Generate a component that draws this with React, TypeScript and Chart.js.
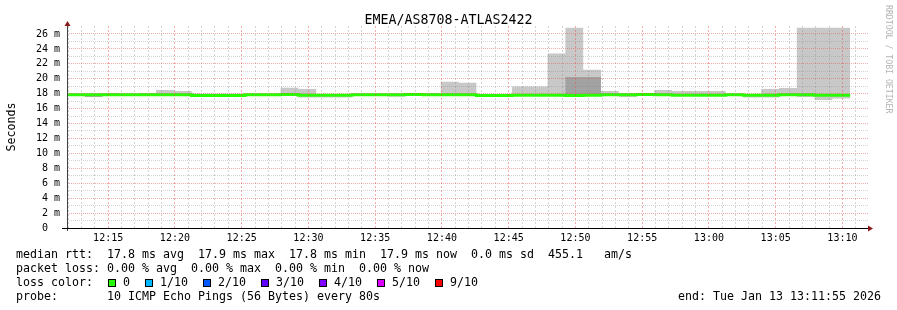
import React, { useEffect, useRef } from "react";
import { Chart, registerables } from "chart.js";

Chart.register(...registerables);

const MONO = '"DejaVu Sans Mono", monospace';

const TITLE = "EMEA/AS8708-ATLAS2422";
const Y_LABEL = "Seconds";
const WATERMARK = "RRDTOOL / TOBI OETIKER";

// time axis in minutes after 12:00
const START_MIN = 11 + 55 / 60; // 12:11:55
const END_MIN = START_MIN + 60; // 13:11:55
const STEP_MIN = 80 / 60; // 80 s step

const timeLabels = ["12:15", "12:20", "12:25", "12:30", "12:35", "12:40", "12:45", "12:50", "12:55", "13:00", "13:05", "13:10"];
const yTickLabels = ["0  ", "2 m", "4 m", "6 m", "8 m", "10 m", "12 m", "14 m", "16 m", "18 m", "20 m", "22 m", "24 m", "26 m"];

// median RTT per 80 s step (ms)
const medianMs = [
  17.85, 17.85, 17.85, 17.85, 17.85, 17.85, 17.85, 17.75, 17.75, 17.75,
  17.85, 17.85, 17.9, 17.8, 17.8, 17.8, 17.85, 17.85, 17.85, 17.9,
  17.85, 17.85, 17.85, 17.75, 17.75, 17.8, 17.8, 17.8, 17.75, 17.8,
  17.85, 17.85, 17.9, 17.85, 17.8, 17.8, 17.8, 17.85, 17.8, 17.8,
  17.85, 17.85, 17.8, 17.8,
];
// highest ping per step (ms)
const maxMs = [
  17.95, 17.95, 18.1, 17.95, 18.1, 18.5, 18.36, 18.02, 18.02, 18.02,
  17.95, 17.95, 18.8, 18.63, 17.95, 17.95, 17.95, 17.95, 17.95, 18.1,
  18.05, 19.6, 19.45, 17.9, 17.9, 18.95, 18.95, 23.4, 26.85, 21.2,
  18.36, 18.05, 18.0, 18.5, 18.36, 18.36, 18.36, 17.95, 17.95, 18.63,
  18.77, 26.85, 26.85, 26.85,
];
// lowest ping per step (ms)
const minMs = [
  17.75, 17.6, 17.75, 17.75, 17.75, 17.75, 17.75, 17.65, 17.65, 17.65,
  17.75, 17.75, 17.8, 17.5, 17.5, 17.5, 17.75, 17.75, 17.65, 17.75,
  17.75, 17.75, 17.7, 17.65, 17.65, 17.7, 17.7, 17.7, 17.65, 17.7,
  17.75, 17.55, 17.8, 17.75, 17.7, 17.7, 17.7, 17.75, 17.5, 17.5,
  17.75, 17.55, 17.15, 17.35,
];
// inner (darker) smoke band
const innerHiMs = [
  17.9, 17.9, 17.9, 17.9, 17.9, 17.9, 17.9, 17.8, 17.8, 17.8,
  17.9, 17.9, 17.95, 17.85, 17.85, 17.85, 17.9, 17.9, 17.9, 17.95,
  17.9, 17.9, 17.9, 17.8, 17.8, 17.85, 17.85, 17.85, 20.25, 20.25,
  17.9, 17.9, 17.95, 17.9, 17.85, 17.85, 17.85, 17.9, 17.85, 17.85,
  17.9, 17.9, 17.85, 17.85,
];
const innerLoMs = [
  17.8, 17.6, 17.8, 17.8, 17.8, 17.8, 17.8, 17.7, 17.7, 17.7,
  17.8, 17.8, 17.85, 17.75, 17.75, 17.75, 17.8, 17.8, 17.65, 17.85,
  17.8, 17.8, 17.8, 17.7, 17.7, 17.75, 17.75, 17.75, 17.7, 17.7,
  17.8, 17.8, 17.85, 17.8, 17.75, 17.75, 17.75, 17.8, 17.75, 17.75,
  17.8, 17.8, 17.75, 17.75,
];

const rttLine = "median rtt:  17.8 ms avg  17.9 ms max  17.8 ms min  17.9 ms now  0.0 ms sd  455.1   am/s";
const lossLine = "packet loss: 0.00 % avg  0.00 % max  0.00 % min  0.00 % now";
const lossColorTitle = "loss color:";
const lossLabels = ["0", "1/10", "2/10", "3/10", "4/10", "5/10", "9/10"];
const lossColors = ["#26ff00", "#00b8ff", "#0059ff", "#5e00ff", "#7e00ff", "#dd00ff", "#ff0000"];
const probeLine = "probe:       10 ICMP Echo Pings (56 Bytes) every 80s";
const endLine = "end: Tue Jan 13 13:11:55 2026";

const GRID_GRAY = "rgba(140,140,140,0.38)";
const GRID_RED = "rgba(230,70,70,0.45)";

// step k holds value arr[k] from x_k to x_(k+1)
function toPoints(arr: number[]) {
  const pts = [{ x: START_MIN, y: arr[0] }];
  arr.forEach((v, k) => pts.push({ x: START_MIN + (k + 1) * STEP_MIN, y: v }));
  return pts;
}

function fmtMinute(m: number) {
  const h = 12 + Math.floor(m / 60);
  const mm = m % 60;
  return `${h}:${mm < 10 ? "0" + mm : mm}`;
}

const decorPlugin = {
  id: "decor",
  afterDraw(chart: any) {
    const { ctx, chartArea: a } = chart;
    ctx.save();
    // axes
    ctx.lineWidth = 1;
    ctx.strokeStyle = "#404040";
    ctx.beginPath();
    ctx.moveTo(Math.round(a.left) + 0.5, a.bottom + 3);
    ctx.lineTo(Math.round(a.left) + 0.5, a.top - 1);
    ctx.stroke();
    ctx.strokeStyle = "#000";
    ctx.beginPath();
    ctx.moveTo(a.left - 5, Math.round(a.bottom) + 0.5);
    ctx.lineTo(a.right + 1, Math.round(a.bottom) + 0.5);
    ctx.stroke();
    // arrows
    ctx.fillStyle = "#8b1a1a";
    ctx.beginPath();
    ctx.moveTo(a.left - 2.5, a.top);
    ctx.lineTo(a.left + 3.5, a.top);
    ctx.lineTo(a.left + 0.5, a.top - 5);
    ctx.closePath();
    ctx.fill();
    ctx.beginPath();
    ctx.moveTo(a.right, a.bottom - 2.5);
    ctx.lineTo(a.right, a.bottom + 3.5);
    ctx.lineTo(a.right + 5, a.bottom + 0.5);
    ctx.closePath();
    ctx.fill();

    // title
    ctx.fillStyle = "#000";
    ctx.textBaseline = "alphabetic";
    ctx.font = `13.3px ${MONO}`;
    ctx.textAlign = "center";
    ctx.fillText(TITLE, 448.5, 24);

    // y label
    ctx.save();
    ctx.translate(15, (a.top + a.bottom) / 2);
    ctx.rotate(-Math.PI / 2);
    ctx.font = `11.63px ${MONO}`;
    ctx.textAlign = "center";
    ctx.fillText(Y_LABEL, 0, 0);
    ctx.restore();

    // watermark
    ctx.save();
    ctx.translate(886, 5);
    ctx.rotate(Math.PI / 2);
    ctx.font = `8.2px ${MONO}`;
    ctx.fillStyle = "#b4b4b4";
    ctx.textAlign = "left";
    ctx.fillText(WATERMARK, 0, 0);
    ctx.restore();

    // legend
    ctx.font = `11.63px ${MONO}`;
    ctx.textAlign = "left";
    ctx.fillStyle = "#000";
    ctx.fillText(rttLine, 16, 258);
    ctx.fillText(lossLine, 16, 272);
    ctx.fillText(lossColorTitle, 16, 286);
    let x = 108;
    lossLabels.forEach((lab, i) => {
      ctx.fillStyle = "#000";
      ctx.fillRect(x, 279, 8, 8);
      ctx.fillStyle = lossColors[i];
      ctx.fillRect(x + 1, 280, 6, 6);
      ctx.fillStyle = "#000";
      ctx.fillText(lab, x + 15, 286);
      x = x + 15 + ctx.measureText(lab).width + 15;
    });
    ctx.fillText(probeLine, 16, 300);
    ctx.fillText(endLine, 678, 300);
    ctx.restore();
  },
};

export default function App() {
  const ref = useRef<HTMLCanvasElement | null>(null);
  useEffect(() => {
    if (!ref.current) return;
    const stepped = "after" as const;
    const base = { stepped, pointRadius: 0, borderWidth: 0, borderColor: "rgba(0,0,0,0)" };
    const minuteTicks: number[] = [];
    for (let m = Math.ceil(START_MIN); m <= END_MIN; m++) minuteTicks.push(m);
    const yTicks: number[] = [];
    for (let v = 0; v <= 26; v++) yTicks.push(v);

    const chart = new Chart(ref.current, {
      type: "line",
      data: {
        datasets: [
          { ...base, label: "max", data: toPoints(maxMs), fill: "+1", backgroundColor: "#c8c8c8", order: 2 },
          { ...base, label: "min", data: toPoints(minMs), fill: false, order: 2 },
          { ...base, label: "innerHi", data: toPoints(innerHiMs), fill: "+1", backgroundColor: "#a2a2a2", order: 1 },
          { ...base, label: "innerLo", data: toPoints(innerLoMs), fill: false, order: 1 },
          {
            label: "median",
            data: toPoints(medianMs),
            stepped,
            pointRadius: 0,
            borderWidth: 3,
            borderColor: "#26ff00",
            fill: false,
            order: 0,
          },
        ],
      } as any,
      options: {
        animation: false,
        responsive: false,
        devicePixelRatio: 1,
        layout: { padding: { top: 26, right: 29, left: 0, bottom: 0 }, autoPadding: false } as any,
        plugins: { legend: { display: false }, tooltip: { enabled: false }, title: { display: false } },
        scales: {
          x: {
            type: "linear",
            min: START_MIN,
            max: END_MIN,
            afterBuildTicks: (s: any) => {
              s.ticks = minuteTicks.map((v) => ({ value: v }));
            },
            afterFit: (s: any) => {
              s.height = 82;
            },
            grid: {
              z: 1,
              drawTicks: false,
              lineWidth: 1,
              color: (c: any) => (c.tick && c.tick.value % 5 === 0 ? GRID_RED : GRID_GRAY),
            },
            border: { display: false, dash: [2, 2] },
            ticks: {
              autoSkip: false,
              maxRotation: 0,
              minRotation: 0,
              padding: 4,
              color: "#000",
              font: { family: MONO, size: 10 },
              callback: (v: any) => {
                const lab = fmtMinute(Number(v));
                return timeLabels.includes(lab) ? lab : "";
              },
            },
          },
          y: {
            type: "linear",
            min: 0,
            max: 27.07,
            afterBuildTicks: (s: any) => {
              s.ticks = yTicks.map((v) => ({ value: v }));
            },
            afterFit: (s: any) => {
              s.width = 67;
            },
            grid: {
              z: 1,
              drawTicks: false,
              lineWidth: 1,
              color: (c: any) => (c.tick && c.tick.value % 2 === 0 ? GRID_RED : GRID_GRAY),
            },
            border: { display: false, dash: [1, 1] },
            ticks: {
              autoSkip: false,
              padding: 7,
              color: "#000",
              font: { family: MONO, size: 10 },
              callback: (v: any) => {
                const n = Number(v);
                return n % 2 === 0 ? yTickLabels[n / 2] : "";
              },
            },
          },
        },
      } as any,
      plugins: [decorPlugin],
    });
    return () => chart.destroy();
  }, []);

  return (
    <div style={{ position: "fixed", left: 0, top: 0, width: 897, height: 310, background: "#fff" }}>
      <canvas ref={ref} width={897} height={310} style={{ display: "block" }} />
    </div>
  );
}
